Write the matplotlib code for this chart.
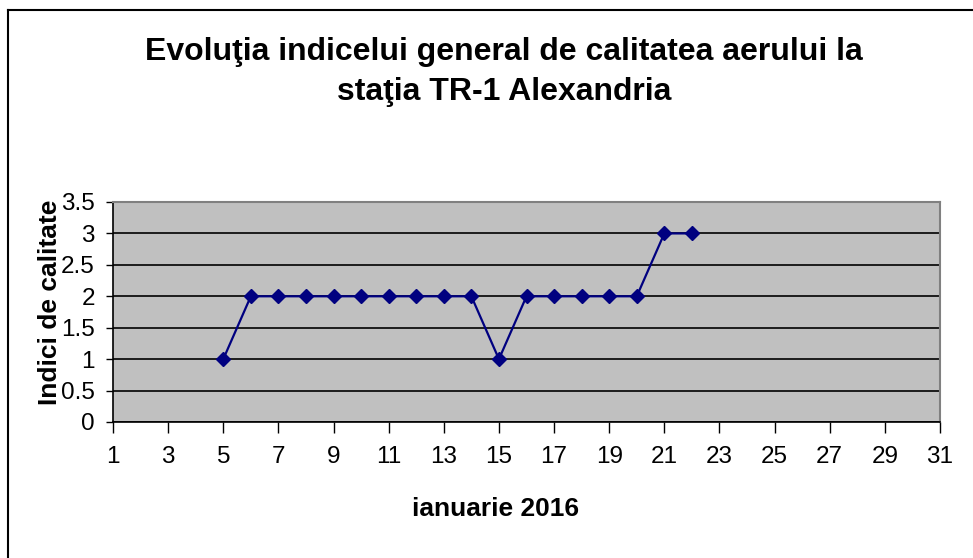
import matplotlib
matplotlib.use("Agg")
import matplotlib.pyplot as plt
from matplotlib.lines import Line2D

plt.rcParams['font.family'] = ['Liberation Sans', 'DejaVu Sans']

# Data: air quality index, January 2016
zile = [5, 6, 7, 8, 9, 10, 11, 12, 13, 14, 15, 16, 17, 18, 19, 20, 21, 22]
indici = [1, 2, 2, 2, 2, 2, 2, 2, 2, 2, 1, 2, 2, 2, 2, 2, 3, 3]
x_ticks = list(range(1, 32, 2))
y_ticks = [0, 0.5, 1, 1.5, 2, 2.5, 3, 3.5]
y_labels = ['0', '0.5', '1', '1.5', '2', '2.5', '3', '3.5']

W, H = 973, 558
fig = plt.figure(figsize=(W / 100, H / 100), dpi=100)

# outer chart frame (only top and left edges visible)
fig.add_artist(Line2D([8 / W, 1.0], [1 - 10 / H, 1 - 10 / H],
                      transform=fig.transFigure, color='black', linewidth=1.5))
fig.add_artist(Line2D([8 / W, 8 / W], [0.0, 1 - 10 / H],
                      transform=fig.transFigure, color='black', linewidth=1.5))

ax = fig.add_axes([113 / W, 1 - 422 / H, (940 - 113) / W, (422 - 202) / H])
ax.set_facecolor('#C0C0C0')

ax.plot(zile, indici, color='#000080', linewidth=1.6, marker='D',
        markersize=7, zorder=3)

ax.set_xlim(1, 31)
ax.set_ylim(0, 3.5)
ax.set_xticks(x_ticks)
ax.set_yticks(y_ticks)
ax.set_yticklabels(y_labels)
ax.tick_params(axis='both', labelsize=17.5, direction='out', width=1,
               colors='black')
ax.tick_params(axis='x', length=8, pad=9)
ax.tick_params(axis='y', length=5, pad=8)

ax.yaxis.grid(True, color='black', linewidth=1.2)
ax.set_axisbelow(True)

for side in ['top', 'right']:
    ax.spines[side].set_color('#808080')
    ax.spines[side].set_linewidth(1.5)
for side in ['left', 'bottom']:
    ax.spines[side].set_color('black')
    ax.spines[side].set_linewidth(1.2)

fig.text(496 / W, 1 - 509 / H, 'ianuarie 2016', ha='center', va='center',
         fontsize=19, fontweight='bold')
fig.text(50 / W, 1 - 302 / H, 'Indici de calitate', ha='center', va='center',
         rotation=90, fontsize=19, fontweight='bold')

fig.text(504 / W, 1 - 52 / H, 'Evoluţia indicelui general de calitatea aerului la',
         ha='center', va='center', fontsize=23, fontweight='bold')
fig.text(504 / W, 1 - 92 / H, 'staţia TR-1 Alexandria',
         ha='center', va='center', fontsize=23, fontweight='bold')

fig.savefig('out.png', dpi=100)
